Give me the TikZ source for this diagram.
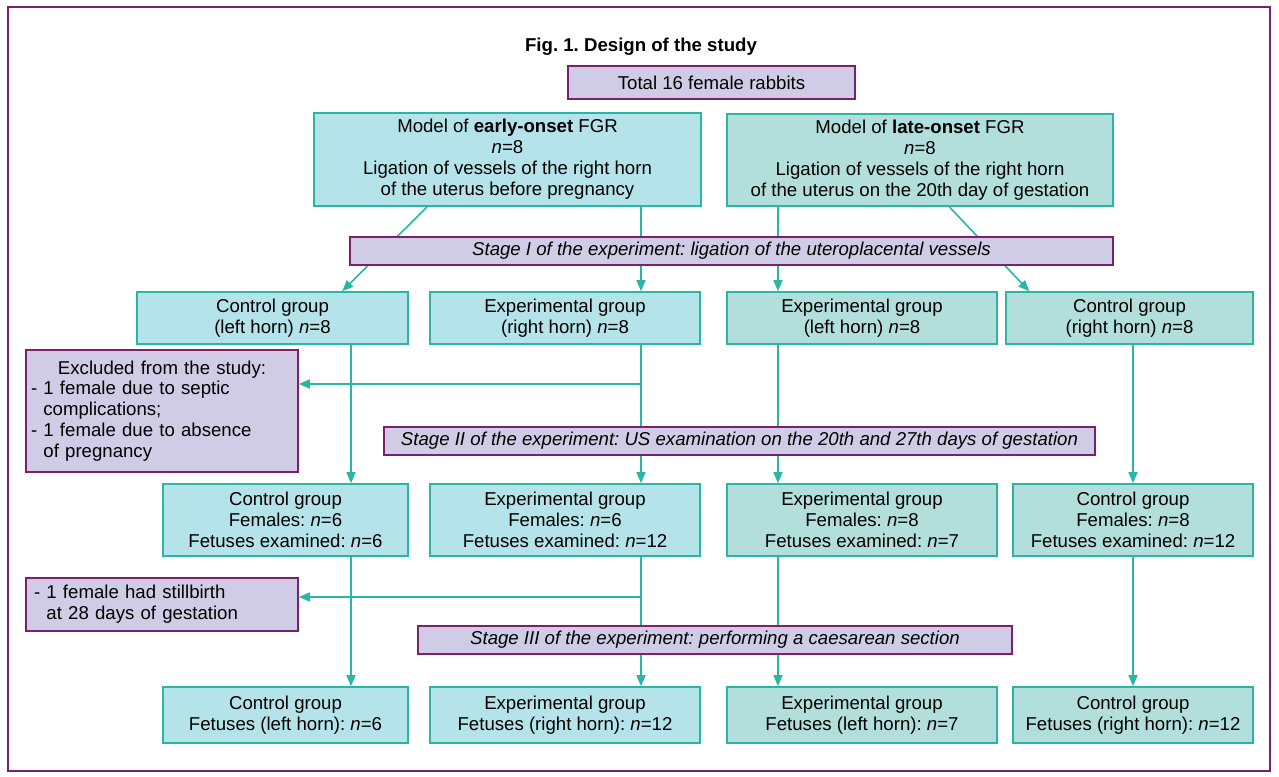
\documentclass[tikz,border=0pt]{standalone}
\usepackage{fontspec}
\setmainfont{Liberation Sans}
\usepackage{tikz}
\usetikzlibrary{arrows.meta,calc}
\definecolor{lilac}{HTML}{D0CCE6}
\definecolor{plum}{HTML}{7E1F6E}
\definecolor{skyfill}{HTML}{B5E3EA}
\definecolor{mintfill}{HTML}{B2DFDB}
\definecolor{tealline}{HTML}{2BB5A5}
\newcommand{\bodyfont}{\fontsize{10.6}{11.9}\selectfont}
\frenchspacing
\tikzset{
  box/.style={draw=tealline, line width=0.9pt, inner sep=0pt, align=center, font=\bodyfont},
  sky/.style={box, fill=skyfill},
  mint/.style={box, fill=mintfill},
  purp/.style={box, draw=plum, fill=lilac},
  stg/.style={purp, font={\itshape\bodyfont}, minimum height=0.56cm},
  note/.style={purp, align=left, text width=5.24cm, inner xsep=0.1cm},
  arr/.style={draw=tealline, line width=0.9pt, -{Triangle[length=2.2mm,width=1.8mm]}},
  tcap/.style={font={\bfseries\bodyfont}}
}

\begin{document}
\begin{tikzpicture}[x=0.02cm, y=-0.02cm,
  r1/.style={minimum height=1.04cm}, r2/.style={minimum height=1.44cm}, r3/.style={minimum height=1.12cm}]
\useasboundingbox (0,0) rectangle (1279,777);
\draw[plum, line width=0.8pt] (8,7) rectangle (1270,771);
\node[tcap] (cap) at (641,47) {Fig. 1. Design of the study};
\node[purp, minimum width=5.74cm, minimum height=0.66cm] (total) at (711.5,82.5) {Total 16 female rabbits};
% models
\node[sky, minimum width=7.74cm, minimum height=1.86cm] (early) at (507.5,159.5)
  {Model of \textbf{early-onset} FGR\\\textit{n}=8\\Ligation of vessels of the right horn\\of the uterus before pregnancy};
\node[mint, minimum width=7.72cm, minimum height=1.84cm] (late) at (920,160)
  {Model of \textbf{late-onset} FGR\\\textit{n}=8\\Ligation of vessels of the right horn\\of the uterus on the 20th day of gestation};
% groups after stage I
\node[sky, r1, minimum width=5.42cm] (r1A) at (272.5,318) {Control group\\(left horn) \textit{n}=8};
\node[sky, r1, minimum width=5.4cm] (r1B) at (565,318) {Experimental group\\(right horn) \textit{n}=8};
\node[mint, r1, minimum width=5.4cm] (r1C) at (862,318) {Experimental group\\(left horn) \textit{n}=8};
\node[mint, r1, minimum width=4.94cm] (r1D) at (1129.5,318) {Control group\\(right horn) \textit{n}=8};
\node[note, minimum height=2.44cm] (excl) at (162,411)
  {\makebox[5.24cm]{Excluded from the study:}\\- 1 female due to septic\\\hphantom{-\ }complications;\\- 1 female due to absence\\\hphantom{-\ }of pregnancy};
% groups after stage II
\node[sky, r2, minimum width=4.9cm] (r2A) at (285.5,520) {Control group\\Females: \textit{n}=6\\Fetuses examined: \textit{n}=6};
\node[sky, r2, minimum width=5.4cm] (r2B) at (565,520) {Experimental group\\Females: \textit{n}=6\\Fetuses examined: \textit{n}=12};
\node[mint, r2, minimum width=5.4cm] (r2C) at (862,520) {Experimental group\\Females: \textit{n}=8\\Fetuses examined: \textit{n}=7};
\node[mint, r2, minimum width=4.8cm] (r2D) at (1133,520) {Control group\\Females: \textit{n}=8\\Fetuses examined: \textit{n}=12};
\node[note, minimum height=1.06cm] (still) at (162,604.5)
  {\hspace*{0.06cm}- 1 female had stillbirth\\\hspace*{0.06cm}\hphantom{-\ }at 28 days of gestation};
% groups after stage III
\node[sky, r3, minimum width=4.9cm] (r3A) at (285.5,715) {Control group\\Fetuses (left horn): \textit{n}=6};
\node[sky, r3, minimum width=5.4cm] (r3B) at (565,715) {Experimental group\\Fetuses (right horn): \textit{n}=12};
\node[mint, r3, minimum width=5.4cm] (r3C) at (862,715) {Experimental group\\Fetuses (left horn): \textit{n}=7};
\node[mint, r3, minimum width=4.8cm] (r3D) at (1133,715) {Control group\\Fetuses (right horn): \textit{n}=12};
% connectors
\coordinate (cA) at (351,0);
\coordinate (cB) at (641,0);
\coordinate (cC) at (778,0);
\coordinate (cD) at (1133,0);
\draw[arr] ($(early.south west)+(114,0)$) -- ($(r1A.north west)+(206,0)$);
\draw[arr] (early.south -| cB) -- (r1B.north -| cB);
\draw[arr] (late.south -| cC) -- (r1C.north -| cC);
\draw[arr] ($(late.south west)+(223,0)$) -- ($(r1D.north west)+(24,0)$);
\foreach \c in {A,B,C,D}{
  \draw[arr] (r1\c.south -| c\c) -- (r2\c.north -| c\c);
  \draw[arr] (r2\c.south -| c\c) -- (r3\c.north -| c\c);
}
\coordinate (ex1) at (641,384);
\coordinate (ex2) at (641,597);
\draw[arr] (ex1) -- (excl.east |- ex1);
\draw[arr] (ex2) -- (still.east |- ex2);
% stages on top of the lines
\node[stg, minimum width=15.26cm] (s1) at (731.5,251) {Stage I of the experiment: ligation of the uteroplacental vessels};
\node[stg, minimum width=14.22cm] (s2) at (739.5,441) {Stage II of the experiment: US examination on the 20th and 27th days of gestation};
\node[stg, minimum width=11.88cm] (s3) at (715,640) {Stage III of the experiment: performing a caesarean section};
\end{tikzpicture}
\end{document}
